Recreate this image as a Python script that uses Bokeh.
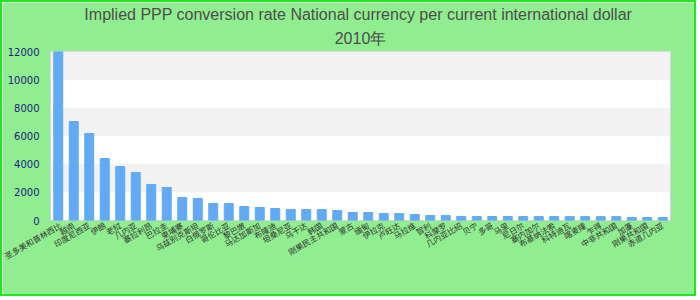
import math
from bokeh.plotting import figure
from bokeh.models import ColumnDataSource, Range1d, FixedTicker, Title
from bokeh.embed import file_html
from bokeh.resources import INLINE

countries = [
    "圣多美和普林西比", "越南", "印度尼西亚", "伊朗", "老挝", "几内亚", "塞拉利昂", "巴拉圭",
    "柬埔寨", "乌兹别克斯坦", "白俄罗斯", "哥伦比亚", "黎巴嫩", "马达加斯加", "布隆迪", "坦桑尼亚",
    "乌干达", "韩国", "刚果民主共和国", "蒙古", "缅甸", "伊拉克", "卢旺达", "马拉维",
    "智利", "科摩罗", "几内亚比绍", "贝宁", "多哥", "马里", "尼日尔", "塞内加尔",
    "布基纳法索", "科特迪瓦", "喀麦隆", "乍得", "中非共和国", "加蓬", "刚果共和国", "赤道几内亚",
]
values = [
    12000, 7030, 6180, 4400, 3835, 3410, 2560, 2345,
    1635, 1565, 1210, 1205, 995, 925, 850, 785,
    780, 778, 710, 570, 565, 500, 495, 425,
    355, 350, 290, 286, 284, 282, 280, 279,
    278, 277, 276, 275, 274, 215, 212, 210,
]
y_ticks = [0, 2000, 4000, 6000, 8000, 10000, 12000]
title_line1 = "Implied PPP conversion rate  National currency per current international dollar"
title_line2 = "2010年"

source = ColumnDataSource(dict(country=countries, value=values))

p = figure(
    x_range=countries,
    y_range=Range1d(0, 12000),
    width=696, height=296,
    output_backend="svg",
    toolbar_location=None,
    title=None,
    min_border_left=48, min_border_right=28,
    min_border_top=49, min_border_bottom=78,
)
p.styles = {"border": "2px solid #22e622"}

p.add_layout(Title(text=title_line2, align="center", text_font="Liberation Sans",
                   text_font_size="16px", text_font_style="normal", text_color="#4d4d4d",
                   standoff=6, offset=0, vertical_align="top"), "above")
p.add_layout(Title(text=title_line1, align="center", text_font="Liberation Sans",
                   text_font_size="16px", text_font_style="normal", text_color="#4d4d4d",
                   standoff=4, offset=0, vertical_align="top"), "above")

p.vbar(x="country", top="value", width=0.58, source=source, color="#63aaf4")

p.background_fill_color = "white"
p.border_fill_color = "#90ee90"
p.outline_line_color = "#d4d4d4"
p.outline_line_width = 1

p.xgrid.visible = False
p.ygrid.grid_line_color = None
p.ygrid.band_fill_color = "#f2f2f2"
p.ygrid.band_fill_alpha = 1.0

p.yaxis.ticker = FixedTicker(ticks=y_ticks)
p.yaxis.axis_line_color = None
p.yaxis.major_tick_line_color = None
p.yaxis.minor_tick_line_color = None
p.yaxis.major_tick_out = 0
p.yaxis.major_label_standoff = 11
p.yaxis.major_label_text_font = "DejaVu Sans"
p.yaxis.major_label_text_font_size = "10px"
p.yaxis.major_label_text_color = "#1a1a80"

p.xaxis.axis_line_color = None
p.xaxis.major_tick_line_color = None
p.xaxis.major_tick_out = 0
p.xaxis.major_label_orientation = math.pi / 6
p.xaxis.major_label_standoff = 4
p.xaxis.major_label_text_font = "Noto Sans CJK SC"
p.xaxis.major_label_text_font_size = "8px"
p.xaxis.major_label_text_color = "#333333"

open("out.html", "w").write(file_html(p, INLINE))
